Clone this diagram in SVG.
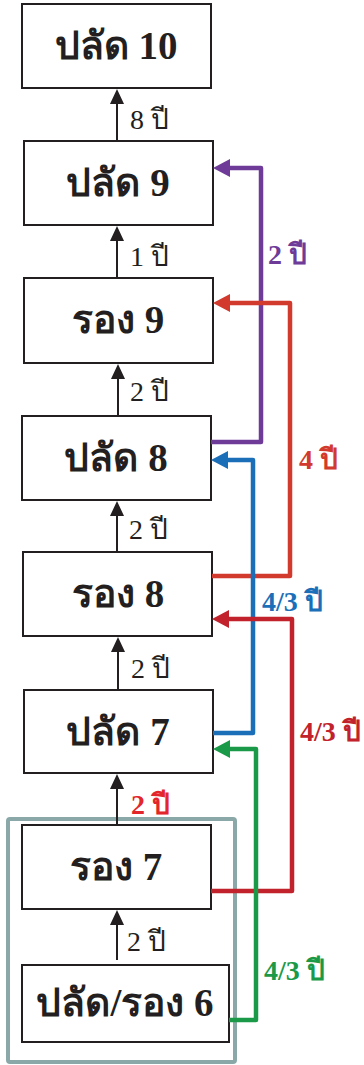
<svg xmlns="http://www.w3.org/2000/svg" width="364" height="1065" viewBox="0 0 364 1065">
  <defs>
    <style>
      .box { fill: #ffffff; stroke: #231f20; stroke-width: 2; }
      .name { font-family: "Liberation Serif", serif; font-weight: bold; font-size: 39px; fill: #231f20; text-anchor: middle; }
      .yr { font-family: "Liberation Serif", serif; font-size: 28px; fill: #231f20; }
      .yrb { font-family: "Liberation Serif", serif; font-size: 28px; font-weight: bold; }
      .up { stroke: #231f20; stroke-width: 2; fill: none; }
      .tip { fill: #231f20; }
      .link { stroke-width: 4.5; fill: none; stroke-linejoin: round; }
    </style>
  </defs>

  <!-- group frame around the lowest two positions -->
  <rect id="group-frame" x="8" y="819" width="227" height="243" fill="none" stroke="#8aa8a8" stroke-width="4" rx="2"/>

  <g id="n-pc10"><rect class="box" x="22" y="4" width="189" height="84"/><text class="name" x="116" y="59">ปลัด 10</text></g>
  <g id="n-pc9"><rect class="box" x="24" y="141" width="189" height="84"/><text class="name" x="118" y="196">ปลัด 9</text></g>
  <g id="n-ro9"><rect class="box" x="24" y="278" width="189" height="85"/><text class="name" x="118" y="333">รอง 9</text></g>
  <g id="n-pc8"><rect class="box" x="22" y="416" width="189" height="84"/><text class="name" x="116" y="471">ปลัด 8</text></g>
  <g id="n-ro8"><rect class="box" x="23" y="552" width="189" height="84"/><text class="name" x="118" y="607">รอง 8</text></g>
  <g id="n-pc7"><rect class="box" x="24" y="690" width="189" height="83"/><text class="name" x="118" y="745">ปลัด 7</text></g>
  <g id="n-ro7"><rect class="box" x="22" y="825" width="189" height="84"/><text class="name" x="116" y="880">รอง 7</text></g>
  <g id="n-pcro6"><rect class="box" x="22" y="965" width="207" height="77"/><text class="name" x="125" y="1016">ปลัด/รอง 6</text></g>

  <g id="connectors">
    <!-- straight promotions -->
    <line class="up" x1="117" y1="141" x2="117" y2="100"/><path class="tip" d="M117 89 L124 104 L110 104 Z"/>
    <line class="up" x1="117" y1="278" x2="117" y2="237"/><path class="tip" d="M117 226 L124 241 L110 241 Z"/>
    <line class="up" x1="118" y1="416" x2="118" y2="375"/><path class="tip" d="M118 364 L125 379 L111 379 Z"/>
    <line class="up" x1="117" y1="552" x2="117" y2="512"/><path class="tip" d="M117 501 L124 516 L110 516 Z"/>
    <line class="up" x1="118" y1="690" x2="118" y2="648"/><path class="tip" d="M118 637 L125 652 L111 652 Z"/>
    <line class="up" x1="117" y1="825" x2="117" y2="785"/><path class="tip" d="M117 774 L124 789 L110 789 Z"/>
    <line class="up" x1="117" y1="960" x2="117" y2="921"/><path class="tip" d="M117 910 L124 925 L110 925 Z"/>

    <!-- fast-track links -->
    <path class="link" stroke="#6e3b98" d="M211 442 H261 V168 H228"/>
    <path d="M213 168 L230 159 L230 177 Z" fill="#6e3b98"/>

    <path class="link" stroke="#d13a2c" d="M212 576 H290 V303 H228"/>
    <path d="M213 303 L230 294 L230 312 Z" fill="#d13a2c"/>

    <path class="link" stroke="#1b6fb8" d="M213 733 H253 V460 H226"/>
    <path d="M211 460 L228 451 L228 469 Z" fill="#1b6fb8"/>

    <path class="link" stroke="#c1222b" d="M211 891 H292 V619 H227"/>
    <path d="M212 619 L229 610 L229 628 Z" fill="#c1222b"/>

    <path class="link" stroke="#1a9a48" d="M229 1020 H256 V749 H228"/>
    <path d="M213 749 L230 740 L230 758 Z" fill="#1a9a48"/>
  </g>

  <g id="labels">
    <text class="yr" x="130" y="129">8 ปี</text>
    <text class="yr" x="130" y="266">1 ปี</text>
    <text class="yr" x="130" y="401">2 ปี</text>
    <text class="yr" x="129" y="539">2 ปี</text>
    <text class="yr" x="131" y="678">2 ปี</text>
    <text class="yrb" x="131" y="814" fill="#e3262b">2 ปี</text>
    <text class="yr" x="127" y="951">2 ปี</text>

    <text class="yrb" x="268" y="264" fill="#6e3b98">2 ปี</text>
    <text class="yrb" x="299" y="469" fill="#d13a2c">4 ปี</text>
    <text class="yrb" x="262" y="611" fill="#1b6fb8">4/3 ปี</text>
    <text class="yrb" x="300" y="741" fill="#c1222b">4/3 ปี</text>
    <text class="yrb" x="264" y="980" fill="#1a9a48">4/3 ปี</text>
  </g>
</svg>
